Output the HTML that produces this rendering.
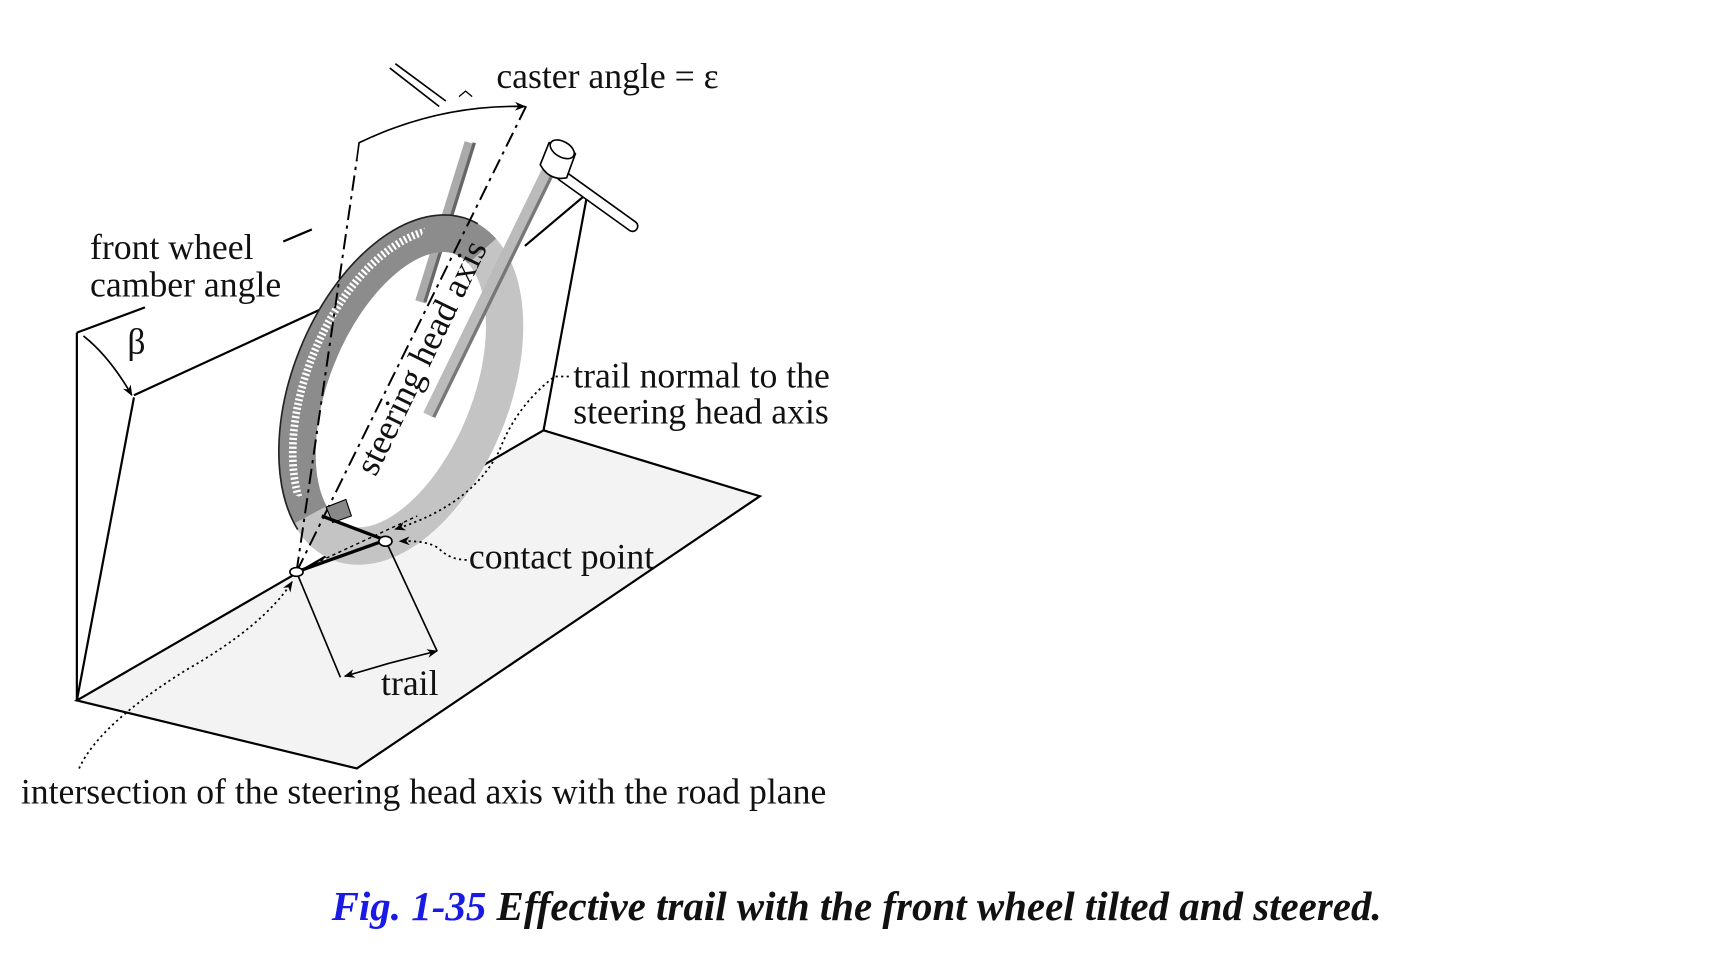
<!DOCTYPE html>
<html><head><meta charset="utf-8"><style>
html,body{margin:0;padding:0;background:#fff;width:1713px;height:954px;overflow:hidden}
svg{display:block}
text{font-family:"Liberation Serif",serif;fill:#111}
</style></head><body>
<svg width="1713" height="954" viewBox="0 0 1560 869" preserveAspectRatio="none" xmlns="http://www.w3.org/2000/svg">
<defs>
<marker id="ah" markerWidth="10" markerHeight="10" refX="9" refY="5" orient="auto" markerUnits="userSpaceOnUse"><path d="M0,1 L10,5 L0,9 L3,5z" fill="#000"/></marker>
<clipPath id="lh"><rect x="200" y="180" width="130" height="300"/></clipPath>
</defs>
<polygon points="70,638 495,392 692,452 325,700" fill="#f3f3f3" stroke="#000" stroke-width="2"/>
<line x1="70" y1="638" x2="70" y2="303" stroke="#000" stroke-width="2"/>
<line x1="70" y1="303" x2="132" y2="280" stroke="#000" stroke-width="2"/>
<line x1="70" y1="638" x2="122" y2="362" stroke="#000" stroke-width="2"/>
<line x1="122" y1="360" x2="335" y2="262" stroke="#000" stroke-width="2"/>
<line x1="478" y1="224" x2="535" y2="176" stroke="#000" stroke-width="2"/>
<line x1="535" y1="176" x2="495" y2="392" stroke="#000" stroke-width="2"/>
<line x1="258" y1="220" x2="284" y2="209" stroke="#000" stroke-width="2"/>
<path d="M76,306 Q100,325 120,360" fill="none" stroke="#000" stroke-width="1.5" marker-end="url(#ah)"/>
<line x1="428" y1="130" x2="383" y2="275" stroke="#aaa" stroke-width="10"/>
<line x1="432" y1="130" x2="387" y2="275" stroke="#666" stroke-width="3"/>
<g transform="rotate(22 365 355)">
<ellipse cx="365" cy="355" rx="82" ry="150" fill="none" stroke="#c4c4c4" stroke-width="34"/>
<ellipse cx="365" cy="355" rx="82" ry="150" fill="none" stroke="#8c8c8c" stroke-width="34" pathLength="100" stroke-dasharray="0 30 48 100"/>
<ellipse cx="365" cy="355" rx="86" ry="154" fill="none" stroke="#fff" stroke-width="7" stroke-dasharray="2 2" clip-path="url(#lh)"/>
<ellipse cx="365" cy="355" rx="99" ry="167" fill="none" stroke="#222" stroke-width="1.5" pathLength="100" stroke-dasharray="0 30 46 100"/>
</g>
<line x1="500" y1="152" x2="390" y2="378" stroke="#bbb" stroke-width="10"/>
<line x1="505" y1="155" x2="395" y2="380" stroke="#777" stroke-width="3"/>
<line x1="512" y1="160" x2="576" y2="206" stroke="#000" stroke-width="11" stroke-linecap="round"/>
<line x1="512" y1="160" x2="576" y2="206" stroke="#fff" stroke-width="8" stroke-linecap="round"/>
<path d="M492,150 L500,130 Q512,128 524,140 L516,162 Q500,165 492,150z" fill="#fff" stroke="#000" stroke-width="1.5"/>
<ellipse cx="512" cy="136" rx="12" ry="7" transform="rotate(30 512 136)" fill="#fff" stroke="#000" stroke-width="1.5"/>
<line x1="355" y1="62" x2="400" y2="97" stroke="#000" stroke-width="1.5"/>
<line x1="360" y1="58" x2="406" y2="92" stroke="#000" stroke-width="1.5"/>
<path d="M418,88 L424,83 L430,88" fill="none" stroke="#000" stroke-width="1.2"/>
<line x1="270" y1="521" x2="480" y2="95" stroke="#000" stroke-width="1.8" stroke-dasharray="14 5 3 5"/>
<line x1="270" y1="521" x2="325" y2="145" stroke="#000" stroke-width="1.8" stroke-dasharray="14 5 3 5"/>
<path d="M325,145 L327,130 Q400,95 478,97" fill="none" stroke="#000" stroke-width="1.5" marker-end="url(#ah)"/>
<polygon points="297,462 315,455 320,470 303,476" fill="#888" stroke="#000" stroke-width="1"/>
<line x1="293" y1="470" x2="351" y2="492" stroke="#000" stroke-width="3"/>
<line x1="270" y1="521" x2="351" y2="492" stroke="#000" stroke-width="3"/>
<line x1="270" y1="521" x2="310" y2="617" stroke="#000" stroke-width="1.5"/>
<line x1="351" y1="492" x2="398" y2="593" stroke="#000" stroke-width="1.5"/>
<line x1="355" y1="604" x2="314" y2="616" stroke="#000" stroke-width="1.5" marker-end="url(#ah)"/>
<line x1="355" y1="604" x2="398" y2="593" stroke="#000" stroke-width="1.5" marker-end="url(#ah)"/>
<line x1="270" y1="521" x2="380" y2="470" stroke="#000" stroke-width="1.3" stroke-dasharray="3 3"/>
<ellipse cx="270" cy="521" rx="6" ry="4" fill="#fff" stroke="#000" stroke-width="1.5"/>
<ellipse cx="351" cy="493" rx="6" ry="4.5" fill="#fff" stroke="#000" stroke-width="1.5"/>
<path d="M518,343 L505,343 Q470,370 455,410 Q430,460 360,482" fill="none" stroke="#000" stroke-width="1.6" stroke-dasharray="2 3" marker-end="url(#ah)"/>
<path d="M425,510 Q410,510 400,500 Q390,492 364,493" fill="none" stroke="#000" stroke-width="1.6" stroke-dasharray="2 3" marker-end="url(#ah)"/>
<path d="M72,700 Q90,660 170,610 Q240,570 266,530" fill="none" stroke="#000" stroke-width="1.6" stroke-dasharray="2 3" marker-end="url(#ah)"/>
<g font-size="32.5">
<text x="452" y="80">caster angle = ε</text>
<text x="82" y="236">front wheel</text>
<text x="82" y="270">camber angle</text>
<text x="116" y="322">β</text>
<text x="522" y="353">trail normal to the</text>
<text x="522" y="386">steering head axis</text>
<text x="427" y="518">contact point</text>
<text x="347" y="633">trail</text>
<text x="19" y="732">intersection of the steering head axis with the road plane</text>
<text transform="translate(342,435) rotate(-64)">steering head axis</text>
</g>
<text x="302" y="838" font-size="37.3" font-weight="bold" font-style="italic"><tspan fill="#1a1ae6">Fig. 1-35</tspan> Effective trail with the front wheel tilted and steered.</text>
</svg>
</body></html>
